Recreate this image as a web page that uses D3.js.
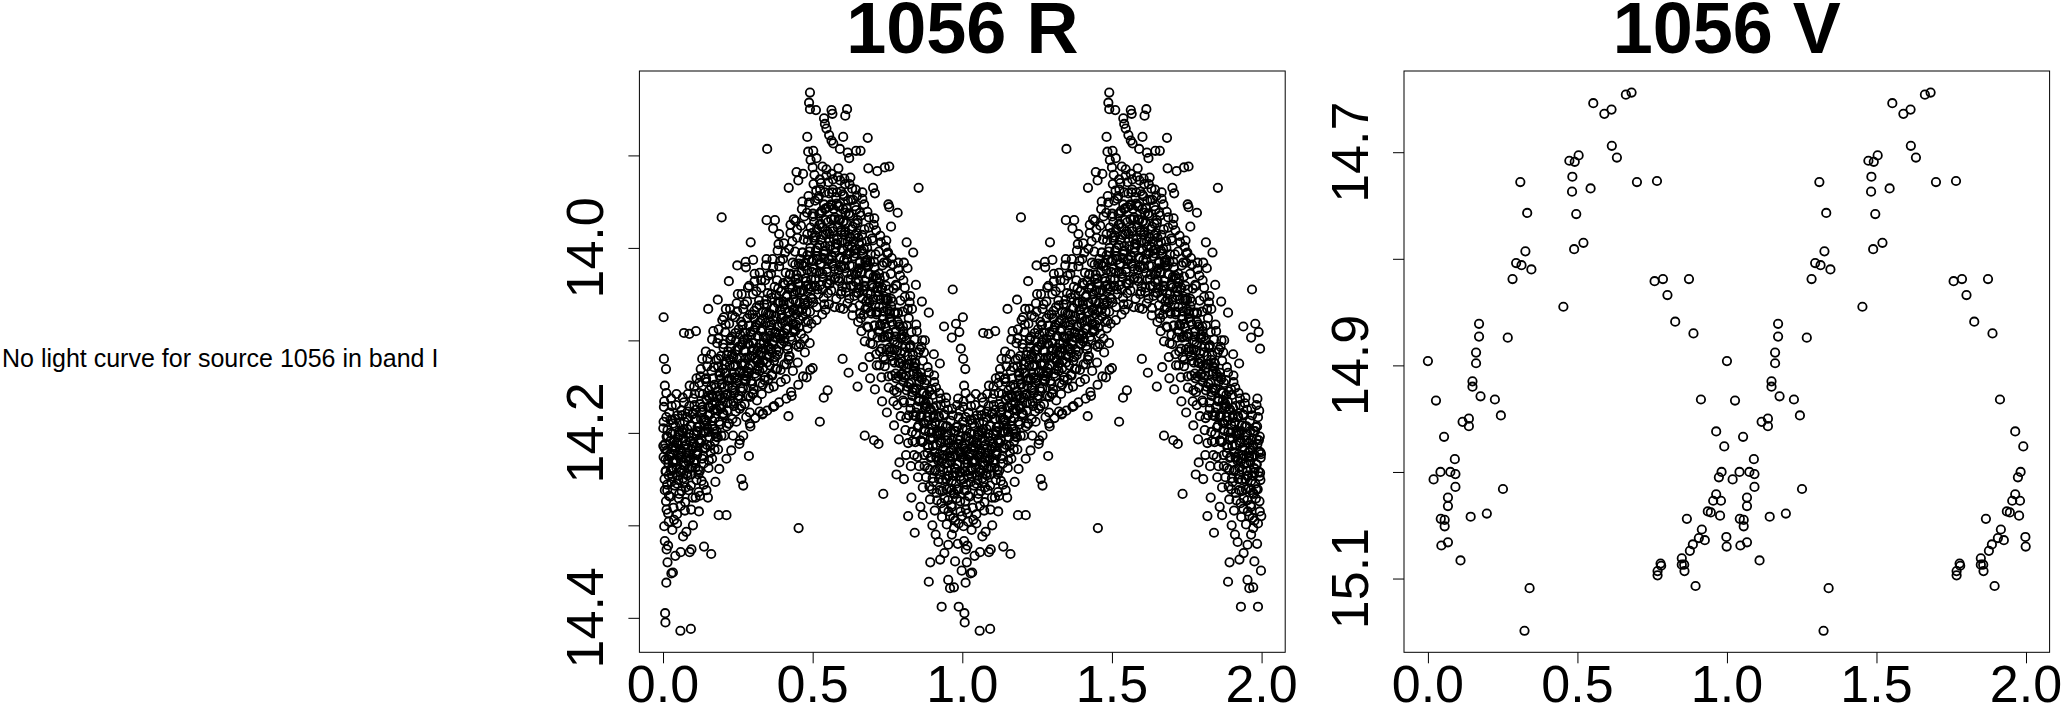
<!DOCTYPE html>
<html>
<head>
<meta charset="utf-8">
<script src="https://cdn.jsdelivr.net/npm/d3@7/dist/d3.min.js"></script>
<style>
  body { margin: 0; background: #fff; }
  svg { display: block; }
  text { font-family: "Liberation Sans", Arial, Helvetica, sans-serif; fill: #000; }
</style>
</head>
<body>
<div class="start"></div>
<script>
// phase-folded light curve of source 1056, one cycle (phase 0-1), each shown twice
// R band: main band of the curve
var rBand = [
[.004,14.166],[.011,14.183],[.001,14.195],[.016,14.204],[.007,14.212],[.013,14.219],[.002,14.226],[.018,14.233],[.009,14.241],[.005,14.250],[.014,14.262],[.010,14.274],[.017,14.287],
[.027,14.163],[.021,14.178],[.034,14.190],[.025,14.200],[.038,14.209],[.030,14.216],[.023,14.223],[.036,14.230],[.029,14.238],[.032,14.247],[.039,14.257],[.024,14.269],[.035,14.281],
[.043,14.170],[.049,14.181],[.041,14.193],[.055,14.202],[.046,14.210],[.058,14.218],[.052,14.224],[.044,14.231],[.057,14.239],[.050,14.246],[.047,14.255],[.054,14.266],[.059,14.279],
[.066,14.162],[.061,14.176],[.072,14.188],[.064,14.198],[.069,14.206],[.077,14.213],[.063,14.220],[.075,14.227],[.068,14.235],[.079,14.244],[.071,14.253],[.062,14.263],[.074,14.275],
[.083,14.158],[.088,14.171],[.081,14.183],[.094,14.193],[.086,14.201],[.091,14.209],[.097,14.215],[.084,14.222],[.090,14.229],[.096,14.237],[.082,14.246],[.093,14.257],[.099,14.270],
[.104,14.150],[.101,14.163],[.110,14.175],[.107,14.185],[.115,14.194],[.103,14.201],[.118,14.208],[.109,14.215],[.113,14.222],[.106,14.230],[.117,14.240],[.112,14.251],[.119,14.264],
[.126,14.131],[.121,14.146],[.133,14.158],[.124,14.169],[.129,14.178],[.137,14.186],[.122,14.193],[.135,14.200],[.128,14.208],[.139,14.217],[.131,14.228],[.123,14.241],[.136,14.256],
[.143,14.112],[.148,14.128],[.141,14.142],[.154,14.154],[.146,14.164],[.152,14.172],[.157,14.180],[.144,14.188],[.150,14.196],[.156,14.205],[.142,14.216],[.153,14.230],[.159,14.221],
[.164,14.099],[.161,14.115],[.170,14.129],[.167,14.141],[.175,14.151],[.163,14.159],[.178,14.167],[.169,14.175],[.173,14.184],[.166,14.193],[.177,14.204],[.172,14.218],[.179,14.198],
[.186,14.088],[.181,14.103],[.193,14.117],[.184,14.128],[.189,14.138],[.197,14.147],[.182,14.155],[.195,14.163],[.188,14.171],[.199,14.180],[.191,14.191],[.183,14.205],[.196,14.171],
[.203,14.075],[.208,14.091],[.201,14.104],[.214,14.116],[.206,14.126],[.211,14.135],[.217,14.143],[.204,14.151],[.210,14.159],[.216,14.168],[.202,14.179],[.213,14.193],[.219,14.190],
[.224,14.066],[.221,14.082],[.230,14.096],[.227,14.108],[.235,14.118],[.223,14.127],[.238,14.135],[.229,14.143],[.233,14.151],[.226,14.160],[.237,14.171],[.232,14.185],[.239,14.157],
[.246,14.060],[.241,14.075],[.253,14.088],[.244,14.100],[.249,14.110],[.257,14.119],[.242,14.127],[.255,14.135],[.248,14.143],[.259,14.152],[.251,14.163],[.243,14.177],[.256,14.174],
[.263,14.050],[.268,14.066],[.261,14.080],[.274,14.092],[.266,14.102],[.271,14.111],[.277,14.119],[.264,14.127],[.270,14.135],[.276,14.144],[.262,14.155],[.273,14.169],[.279,14.139],
[.284,14.043],[.281,14.058],[.290,14.072],[.287,14.084],[.295,14.094],[.283,14.103],[.298,14.111],[.289,14.119],[.293,14.127],[.286,14.136],[.297,14.147],[.292,14.161],[.299,14.158],
[.306,14.036],[.301,14.050],[.313,14.064],[.304,14.076],[.309,14.086],[.317,14.095],[.302,14.103],[.315,14.111],[.308,14.119],[.319,14.128],[.311,14.139],[.303,14.153],[.316,14.121],
[.323,14.027],[.328,14.043],[.321,14.057],[.334,14.069],[.326,14.079],[.331,14.088],[.337,14.096],[.324,14.104],[.330,14.113],[.336,14.122],[.322,14.133],[.333,14.148],[.339,14.143],
[.344,14.019],[.341,14.035],[.350,14.049],[.347,14.061],[.355,14.072],[.343,14.081],[.358,14.089],[.349,14.098],[.353,14.107],[.346,14.116],[.357,14.127],[.352,14.142],[.359,14.109],
[.366,14.012],[.361,14.028],[.373,14.042],[.364,14.054],[.369,14.065],[.377,14.074],[.362,14.083],[.375,14.092],[.368,14.101],[.379,14.110],[.371,14.122],[.363,14.137],[.376,14.131],
[.383,14.003],[.388,14.020],[.381,14.035],[.394,14.047],[.386,14.058],[.391,14.067],[.397,14.076],[.384,14.085],[.390,14.094],[.396,14.104],[.382,14.116],[.393,14.132],[.399,14.094],
[.404,13.995],[.401,14.012],[.410,14.027],[.407,14.040],[.415,14.051],[.403,14.061],[.418,14.070],[.409,14.079],[.413,14.088],[.406,14.098],[.417,14.110],[.412,14.126],[.419,14.121],
[.426,13.984],[.421,14.001],[.433,14.016],[.424,14.029],[.429,14.040],[.437,14.050],[.422,14.059],[.435,14.068],[.428,14.078],[.439,14.088],[.431,14.100],[.423,14.117],[.436,14.083],
[.443,13.971],[.448,13.989],[.441,14.004],[.454,14.017],[.446,14.029],[.451,14.039],[.457,14.048],[.444,14.058],[.450,14.067],[.456,14.078],[.442,14.090],[.453,14.107],[.459,14.104],
[.464,13.958],[.461,13.976],[.470,13.991],[.467,14.005],[.475,14.016],[.463,14.026],[.478,14.036],[.469,14.046],[.473,14.056],[.466,14.067],[.477,14.080],[.472,14.098],[.479,14.069],
[.486,13.944],[.481,13.962],[.493,13.978],[.484,13.992],[.489,14.004],[.497,14.014],[.482,14.024],[.495,14.034],[.488,14.044],[.499,14.055],[.491,14.069],[.483,14.087],[.496,14.082],
[.503,13.931],[.508,13.949],[.501,13.966],[.514,13.980],[.506,13.992],[.511,14.003],[.517,14.013],[.504,14.023],[.510,14.034],[.516,14.045],[.502,14.059],[.513,14.078],[.519,14.050],
[.524,13.926],[.521,13.944],[.530,13.960],[.527,13.974],[.535,13.986],[.523,13.997],[.538,14.007],[.529,14.017],[.533,14.028],[.526,14.040],[.537,14.054],[.532,14.072],[.539,14.061],
[.546,13.922],[.541,13.940],[.553,13.956],[.544,13.970],[.549,13.982],[.557,13.993],[.542,14.003],[.555,14.013],[.548,14.023],[.559,14.035],[.551,14.049],[.543,14.067],[.556,14.039],
[.563,13.920],[.568,13.937],[.561,13.953],[.574,13.967],[.566,13.979],[.571,13.990],[.577,14.000],[.564,14.010],[.570,14.020],[.576,14.032],[.562,14.046],[.573,14.064],[.579,14.055],
[.584,13.923],[.581,13.940],[.590,13.955],[.587,13.969],[.595,13.981],[.583,13.991],[.598,14.001],[.589,14.011],[.593,14.021],[.586,14.033],[.597,14.047],[.592,14.065],[.599,14.042],
[.606,13.925],[.601,13.942],[.613,13.957],[.604,13.971],[.609,13.983],[.617,13.993],[.602,14.003],[.615,14.012],[.608,14.022],[.619,14.034],[.611,14.048],[.603,14.066],[.616,14.060],
[.623,13.931],[.628,13.948],[.621,13.963],[.634,13.977],[.626,13.989],[.631,13.999],[.637,14.009],[.624,14.019],[.630,14.029],[.636,14.041],[.622,14.055],[.633,14.073],[.639,14.052],
[.644,13.937],[.641,13.955],[.650,13.970],[.647,13.984],[.655,13.996],[.643,14.006],[.658,14.016],[.649,14.026],[.653,14.036],[.646,14.048],[.657,14.062],[.652,14.080],[.659,14.071],
[.666,13.947],[.661,13.965],[.673,13.980],[.664,13.994],[.669,14.006],[.677,14.016],[.662,14.026],[.675,14.036],[.668,14.046],[.679,14.058],[.671,14.072],[.663,14.090],[.676,14.066],
[.683,13.961],[.688,13.978],[.681,13.993],[.694,14.007],[.686,14.019],[.691,14.029],[.697,14.039],[.684,14.049],[.690,14.059],[.696,14.071],[.682,14.085],[.693,14.103],[.699,14.094],
[.704,13.975],[.701,13.992],[.710,14.007],[.707,14.021],[.715,14.033],[.703,14.043],[.718,14.052],[.709,14.062],[.713,14.072],[.706,14.084],[.717,14.097],[.712,14.115],[.719,14.090],
[.726,13.987],[.721,14.004],[.733,14.019],[.724,14.033],[.729,14.045],[.737,14.055],[.722,14.064],[.735,14.074],[.728,14.084],[.739,14.096],[.731,14.109],[.723,14.127],[.736,14.118],
[.743,13.999],[.748,14.016],[.741,14.031],[.754,14.045],[.746,14.057],[.751,14.067],[.757,14.076],[.744,14.086],[.750,14.096],[.756,14.108],[.742,14.121],[.753,14.139],[.759,14.112],
[.764,14.011],[.761,14.028],[.770,14.044],[.767,14.058],[.775,14.070],[.763,14.080],[.778,14.090],[.769,14.100],[.773,14.110],[.766,14.122],[.777,14.136],[.772,14.154],[.779,14.141],
[.786,14.023],[.781,14.041],[.793,14.057],[.784,14.071],[.789,14.083],[.797,14.094],[.782,14.104],[.795,14.114],[.788,14.124],[.799,14.136],[.791,14.151],[.783,14.170],[.796,14.137],
[.803,14.035],[.808,14.053],[.801,14.069],[.814,14.084],[.806,14.096],[.811,14.107],[.817,14.117],[.804,14.127],[.810,14.138],[.816,14.150],[.802,14.165],[.813,14.184],[.819,14.211],
[.824,14.059],[.821,14.076],[.830,14.091],[.827,14.105],[.835,14.116],[.823,14.126],[.838,14.136],[.829,14.146],[.833,14.156],[.826,14.167],[.837,14.181],[.832,14.199],[.839,14.224],
[.846,14.083],[.841,14.099],[.853,14.113],[.844,14.125],[.849,14.136],[.857,14.145],[.842,14.154],[.855,14.163],[.848,14.172],[.859,14.182],[.851,14.194],[.843,14.210],[.856,14.236],
[.863,14.107],[.868,14.122],[.861,14.135],[.874,14.146],[.866,14.156],[.871,14.165],[.877,14.173],[.864,14.181],[.870,14.189],[.876,14.198],[.862,14.209],[.873,14.224],[.879,14.248],
[.884,14.129],[.881,14.143],[.890,14.155],[.887,14.166],[.895,14.175],[.883,14.183],[.898,14.191],[.889,14.199],[.893,14.207],[.886,14.216],[.897,14.226],[.892,14.240],[.899,14.261],
[.906,14.145],[.901,14.159],[.913,14.171],[.904,14.181],[.909,14.190],[.917,14.198],[.902,14.206],[.915,14.213],[.908,14.221],[.919,14.230],[.911,14.240],[.903,14.253],[.916,14.273],
[.923,14.157],[.928,14.170],[.921,14.182],[.934,14.192],[.926,14.201],[.931,14.209],[.937,14.216],[.924,14.223],[.930,14.231],[.936,14.240],[.922,14.250],[.933,14.263],[.939,14.282],
[.944,14.168],[.941,14.181],[.950,14.193],[.947,14.203],[.955,14.211],[.943,14.219],[.958,14.226],[.949,14.233],[.953,14.241],[.946,14.250],[.957,14.260],[.952,14.273],[.959,14.290],
[.966,14.174],[.961,14.187],[.973,14.198],[.964,14.208],[.969,14.216],[.977,14.224],[.962,14.231],[.975,14.238],[.968,14.246],[.979,14.255],[.971,14.265],[.963,14.278],[.976,14.295],
[.983,14.170],[.988,14.183],[.981,14.194],[.994,14.204],[.986,14.212],[.991,14.220],[.997,14.227],[.984,14.234],[.990,14.242],[.996,14.251],[.982,14.261],[.993,14.274],[.999,14.290]
];
// R band: the darkest middle of the band
var rCore = [
[.002,14.188],[.012,14.204],[.006,14.217],[.017,14.229],[.009,14.242],[.014,14.256],
[.025,14.186],[.031,14.201],[.036,14.214],[.022,14.226],[.033,14.240],[.028,14.253],
[.042,14.185],[.053,14.199],[.048,14.212],[.057,14.225],[.045,14.238],[.051,14.251],
[.065,14.181],[.070,14.196],[.076,14.209],[.062,14.222],[.073,14.236],[.067,14.249],
[.082,14.177],[.092,14.192],[.087,14.205],[.097,14.218],[.085,14.231],[.095,14.245],
[.105,14.170],[.111,14.185],[.116,14.198],[.102,14.211],[.114,14.224],[.108,14.238],
[.122,14.157],[.132,14.172],[.127,14.185],[.137,14.198],[.125,14.211],[.134,14.225],
[.145,14.145],[.151,14.160],[.156,14.173],[.142,14.186],[.153,14.199],[.147,14.213],
[.162,14.133],[.172,14.148],[.167,14.161],[.177,14.174],[.165,14.187],[.174,14.201],
[.185,14.120],[.191,14.135],[.196,14.148],[.182,14.161],[.193,14.174],[.187,14.188],
[.202,14.108],[.212,14.123],[.207,14.136],[.217,14.149],[.205,14.162],[.214,14.176],
[.225,14.100],[.231,14.115],[.236,14.128],[.222,14.141],[.233,14.154],[.227,14.168],
[.242,14.092],[.252,14.107],[.247,14.120],[.257,14.133],[.245,14.146],[.254,14.160],
[.265,14.084],[.271,14.099],[.276,14.112],[.262,14.125],[.273,14.138],[.267,14.152],
[.282,14.076],[.292,14.091],[.287,14.104],[.297,14.117],[.285,14.130],[.294,14.144],
[.305,14.068],[.311,14.083],[.316,14.096],[.302,14.109],[.313,14.122],[.307,14.136],
[.322,14.062],[.332,14.077],[.327,14.090],[.337,14.103],[.325,14.116],[.334,14.130],
[.345,14.056],[.351,14.071],[.356,14.084],[.342,14.097],[.353,14.110],[.347,14.124],
[.362,14.050],[.372,14.065],[.367,14.078],[.377,14.091],[.365,14.104],[.374,14.118],
[.385,14.044],[.391,14.059],[.396,14.072],[.382,14.085],[.393,14.098],[.387,14.112],
[.402,14.038],[.412,14.053],[.407,14.066],[.417,14.079],[.405,14.092],[.414,14.106],
[.425,14.028],[.431,14.043],[.436,14.056],[.422,14.069],[.433,14.082],[.427,14.096],
[.442,14.018],[.452,14.033],[.447,14.046],[.457,14.059],[.445,14.072],[.454,14.086],
[.465,14.005],[.471,14.020],[.476,14.033],[.462,14.046],[.473,14.060],[.467,14.074],
[.482,13.985],[.492,14.000],[.487,14.013],[.497,14.026],[.485,14.040],[.494,14.054],
[.505,13.972],[.511,13.987],[.516,14.000],[.502,14.013],[.513,14.027],[.507,14.041],
[.522,13.963],[.532,13.978],[.527,13.991],[.537,14.004],[.525,14.018],[.534,14.032],
[.545,13.957],[.551,13.972],[.556,13.985],[.542,13.998],[.553,14.012],[.547,14.026],
[.562,13.954],[.572,13.969],[.567,13.982],[.577,13.995],[.565,14.009],[.574,14.023],
[.585,13.955],[.591,13.970],[.596,13.983],[.582,13.996],[.593,14.010],[.587,14.024],
[.602,13.958],[.612,13.973],[.607,13.986],[.617,13.999],[.605,14.013],[.614,14.027],
[.625,13.965],[.631,13.980],[.636,13.993],[.622,14.006],[.633,14.020],[.627,14.034],
[.642,13.974],[.652,13.989],[.647,14.002],[.657,14.015],[.645,14.029],[.654,14.043],
[.665,13.986],[.671,14.001],[.676,14.014],[.662,14.027],[.673,14.041],[.667,14.055],
[.682,14.000],[.692,14.015],[.687,14.028],[.697,14.041],[.685,14.055],[.694,14.069],
[.705,14.015],[.711,14.030],[.716,14.043],[.702,14.056],[.713,14.070],[.707,14.084],
[.722,14.028],[.732,14.043],[.727,14.056],[.737,14.069],[.725,14.083],[.734,14.097],
[.745,14.041],[.751,14.056],[.756,14.069],[.742,14.082],[.753,14.096],[.747,14.110],
[.762,14.055],[.772,14.070],[.767,14.083],[.777,14.096],[.765,14.110],[.774,14.124],
[.785,14.070],[.791,14.085],[.796,14.098],[.782,14.111],[.793,14.125],[.787,14.139],
[.802,14.085],[.812,14.100],[.807,14.113],[.817,14.126],[.805,14.140],[.814,14.154],
[.825,14.106],[.831,14.121],[.836,14.134],[.822,14.147],[.833,14.160],[.827,14.174],
[.842,14.124],[.852,14.139],[.847,14.152],[.857,14.165],[.845,14.178],[.854,14.192],
[.865,14.142],[.871,14.157],[.876,14.170],[.862,14.183],[.873,14.196],[.867,14.210],
[.882,14.159],[.892,14.174],[.887,14.187],[.897,14.200],[.885,14.213],[.894,14.227],
[.905,14.173],[.911,14.188],[.916,14.201],[.902,14.214],[.913,14.227],[.907,14.241],
[.922,14.183],[.932,14.198],[.927,14.211],[.937,14.224],[.925,14.237],[.934,14.251],
[.945,14.193],[.951,14.208],[.956,14.221],[.942,14.234],[.953,14.247],[.947,14.261],
[.962,14.198],[.972,14.213],[.967,14.226],[.977,14.239],[.965,14.252],[.974,14.266],
[.985,14.193],[.991,14.208],[.996,14.221],[.982,14.234],[.993,14.247],[.987,14.261]
];
// R band: further points filling the band, read less regularly
var rFill = [
[.003,14.172],[.008,14.229],[.012,14.283],[.015,14.197],[.019,14.246],[.006,14.262],[.001,14.214],[.011,14.157],
[.024,14.209],[.020,14.268],[.029,14.171],[.033,14.232],[.037,14.294],[.026,14.241],[.031,14.186],[.039,14.219],
[.041,14.229],[.045,14.158],[.050,14.205],[.053,14.271],[.056,14.189],[.047,14.288],[.059,14.243],[.043,14.216],
[.062,14.241],[.066,14.200],[.070,14.167],[.073,14.284],[.078,14.221],[.064,14.181],[.076,14.259],[.069,14.232],
[.081,14.196],[.085,14.262],[.089,14.149],[.092,14.227],[.098,14.180],[.087,14.239],[.094,14.283],[.083,14.216],
[.103,14.232],[.106,14.158],[.109,14.270],[.114,14.199],[.118,14.245],[.101,14.179],[.112,14.141],[.116,14.220],
[.121,14.210],[.125,14.139],[.129,14.252],[.133,14.175],[.136,14.233],[.123,14.268],[.138,14.192],[.131,14.120],
[.142,14.199],[.145,14.262],[.148,14.120],[.152,14.238],[.155,14.162],[.158,14.214],[.144,14.141],[.150,14.181],
[.161,14.150],[.164,14.228],[.168,14.090],[.171,14.196],[.175,14.253],[.178,14.121],[.166,14.170],[.173,14.209],
[.182,14.176],[.185,14.098],[.188,14.239],[.192,14.142],[.195,14.203],[.198,14.078],[.184,14.218],[.190,14.160],
[.201,14.131],[.205,14.203],[.209,14.083],[.212,14.228],[.215,14.158],[.218,14.112],[.203,14.181],[.210,14.066],
[.221,14.190],[.224,14.121],[.228,14.219],[.232,14.073],[.235,14.166],[.238,14.140],[.226,14.098],[.234,14.203],
[.242,14.111],[.245,14.188],[.248,14.069],[.252,14.160],[.255,14.212],[.258,14.094],[.244,14.141],[.250,14.050],
[.261,14.171],[.264,14.105],[.268,14.203],[.272,14.061],[.275,14.142],[.278,14.183],[.266,14.083],[.274,14.125],
[.282,14.098],[.285,14.160],[.288,14.041],[.292,14.193],[.295,14.117],[.298,14.072],[.284,14.134],[.290,14.178],
[.301,14.157],[.304,14.089],[.308,14.184],[.312,14.047],[.315,14.132],[.318,14.108],[.306,14.028],[.314,14.165],
[.322,14.081],[.325,14.146],[.328,14.035],[.332,14.180],[.335,14.109],[.338,14.061],[.324,14.125],[.330,14.158],
[.341,14.140],[.344,14.070],[.348,14.176],[.352,14.030],[.355,14.118],[.358,14.095],[.346,14.012],[.354,14.152],
[.362,14.072],[.365,14.138],[.368,14.021],[.372,14.171],[.375,14.097],[.378,14.051],[.364,14.113],[.370,14.150],
[.381,14.131],[.384,14.060],[.388,14.167],[.392,14.014],[.395,14.104],[.398,14.082],[.386,13.996],[.394,14.145],
[.402,14.058],[.405,14.126],[.408,14.005],[.412,14.163],[.415,14.087],[.418,14.036],[.404,14.101],[.410,14.142],
[.421,14.117],[.424,14.044],[.428,14.156],[.432,13.993],[.435,14.090],[.438,14.066],[.426,13.975],[.434,14.133],
[.442,14.034],[.445,14.105],[.448,13.980],[.452,14.148],[.455,14.069],[.458,14.012],[.444,14.083],[.450,14.124],
[.461,14.093],[.464,14.018],[.468,14.139],[.472,13.966],[.475,14.062],[.478,14.041],[.466,13.950],[.474,14.113],
[.482,14.008],[.485,14.079],[.488,13.951],[.492,14.132],[.495,14.042],[.498,13.984],[.484,14.058],[.490,14.103],
[.501,13.963],[.504,13.989],[.508,14.041],[.512,13.938],[.515,14.009],[.518,13.947],[.506,13.921],[.514,14.064],
[.522,13.975],[.525,13.937],[.528,13.930],[.532,14.045],[.535,14.011],[.538,13.953],[.524,14.026],[.530,13.962],
[.541,13.958],[.544,13.985],[.548,14.038],[.552,13.929],[.555,13.941],[.558,13.998],[.546,13.915],[.554,14.061],
[.562,13.969],[.565,13.940],[.568,13.926],[.572,14.034],[.575,14.005],[.578,13.945],[.564,14.017],[.570,13.958],
[.581,13.952],[.584,13.978],[.588,14.036],[.592,13.927],[.595,13.939],[.598,13.994],[.586,13.914],[.594,14.050],
[.602,13.972],[.605,13.944],[.608,13.931],[.612,14.043],[.615,14.007],[.618,13.949],[.604,14.020],[.610,13.962],
[.621,13.963],[.624,13.988],[.628,14.041],[.632,13.936],[.635,13.948],[.638,14.003],[.626,13.924],[.634,14.065],
[.642,13.986],[.645,13.959],[.648,13.944],[.652,14.049],[.655,14.022],[.658,13.962],[.644,14.037],[.650,13.973],
[.661,14.076],[.664,14.003],[.668,14.129],[.672,13.953],[.675,14.042],[.678,14.019],[.666,13.940],[.674,14.101],
[.682,14.013],[.685,14.086],[.688,13.967],[.692,14.141],[.695,14.050],[.698,13.990],[.684,14.065],[.690,14.118],
[.701,14.104],[.704,14.031],[.708,14.153],[.712,13.981],[.715,14.069],[.718,14.047],[.706,13.968],[.714,14.127],
[.722,14.038],[.725,14.112],[.728,13.994],[.732,14.166],[.735,14.077],[.738,14.016],[.724,14.091],[.730,14.140],
[.741,14.128],[.744,14.055],[.748,14.178],[.752,14.005],[.755,14.093],[.758,14.071],[.746,13.992],[.754,14.151],
[.762,14.063],[.765,14.138],[.768,14.018],[.772,14.192],[.775,14.102],[.778,14.040],[.764,14.117],[.770,14.166],
[.781,14.156],[.784,14.080],[.788,14.207],[.792,14.030],[.795,14.120],[.798,14.097],[.786,14.016],[.794,14.182],
[.802,14.090],[.805,14.167],[.808,14.043],[.812,14.224],[.815,14.130],[.818,14.066],[.804,14.145],[.810,14.197],
[.821,14.181],[.824,14.108],[.828,14.236],[.832,14.066],[.835,14.152],[.838,14.128],[.826,14.052],[.834,14.209],
[.842,14.130],[.845,14.201],[.848,14.090],[.852,14.248],[.855,14.166],[.858,14.110],[.844,14.182],[.850,14.226],
[.861,14.208],[.864,14.140],[.868,14.259],[.872,14.113],[.875,14.190],[.878,14.168],[.866,14.100],[.874,14.236],
[.882,14.172],[.885,14.238],[.888,14.135],[.892,14.272],[.895,14.205],[.898,14.153],[.884,14.222],[.890,14.258],
[.901,14.249],[.904,14.184],[.908,14.284],[.912,14.151],[.915,14.226],[.918,14.203],[.906,14.138],[.914,14.265],
[.922,14.199],[.925,14.262],[.928,14.163],[.932,14.291],[.935,14.228],[.938,14.180],[.924,14.245],[.930,14.276],
[.941,14.271],[.944,14.208],[.948,14.299],[.952,14.175],[.955,14.246],[.958,14.225],[.946,14.162],[.954,14.285],
[.962,14.219],[.965,14.280],[.968,14.181],[.972,14.303],[.975,14.243],[.978,14.198],[.964,14.262],[.970,14.292],
[.981,14.271],[.984,14.207],[.988,14.298],[.992,14.176],[.995,14.243],[.998,14.223],[.986,14.163],[.994,14.285]
];
// R band: scattered points above and below the band
var rScatter = [
[.002,14.075],[.003,14.120],[.010,14.131],[.006,14.149],[.088,14.093],[.070,14.092],[.110,14.090],[.151,14.066],[.183,14.056],
[.196,13.967],[.220,14.036],[.248,14.019],[.276,14.015],[.277,14.021],[.301,14.013],[.293,13.994],[.346,13.970],[.374,13.970],
[.368,13.979],[.388,13.985],[.437,13.969],[.348,13.893],[.420,13.935],[.446,13.918],[.468,13.920],[.452,13.927],[.482,13.880],
[.485,13.896],[.502,13.895],[.493,13.905],[.513,13.903],[.533,13.912],[.500,13.913],[.491,13.832],[.488,13.843],[.491,13.850],
[.511,13.851],[.563,13.851],[.566,13.855],[.615,13.850],[.609,13.857],[.538,13.860],[.541,13.866],[.546,13.871],[.555,13.878],
[.563,13.884],[.569,13.887],[.591,13.893],[.617,13.897],[.622,13.903],[.645,13.895],[.660,13.895],[.602,13.880],[.684,13.881],
[.686,13.914],[.716,13.917],[.741,13.913],[.756,13.912],[.702,13.935],[.708,13.941],[.753,13.953],[.756,13.956],[.784,13.962],
[.762,13.977],[.814,13.994],[.836,14.005],[.805,14.016],[.749,14.006],[.817,14.022],[.845,14.040],[.865,14.058],[.854,13.935],
[.888,14.070],[.875,14.100],[.905,14.115],[.925,14.125],[.939,14.085],[.979,14.082],[.965,14.097],[.990,14.091],[.995,14.109],[.968,14.045],
[.007,14.395],[.008,14.405],[.058,14.414],[.093,14.412],[.011,14.362],[.028,14.352],[.033,14.351],[.015,14.340],[.006,14.317],
[.012,14.326],[.017,14.322],[.041,14.333],[.059,14.329],[.089,14.329],[.095,14.326],[.137,14.323],[.161,14.331],[.078,14.307],
[.067,14.312],[.186,14.289],[.212,14.289],[.262,14.250],[.268,14.257],[.287,14.225],[.453,14.303],[.524,14.188],[.537,14.162],
[.550,14.154],[.674,14.203],[.736,14.266],[.819,14.290],[.868,14.289],[.841,14.308],[.893,14.340],[.926,14.337],[.888,14.361],
[.931,14.388],[.953,14.359],[.959,14.368],[.972,14.367],[.976,14.339],[.988,14.388],[.911,14.310],[.953,14.321],[.998,14.349],
[.323,14.177],[.419,14.182],[.257,14.208],[.290,14.190],[.334,14.179],[.368,14.172],[.004,14.301],[.019,14.296],[.031,14.305],
[.047,14.298],[.790,14.232],[.805,14.250],[.830,14.270],[.860,14.280],[.900,14.300],[.920,14.318],[.940,14.330],[.965,14.310],
[.985,14.320],[.120,14.285],[.150,14.270],[.100,14.300],[.720,14.212],[.705,14.208],[.780,14.245],[.600,14.120],[.620,14.135],
[.650,14.150],[.480,14.140],[.430,14.160],[.500,14.130]
];
// V band
var vObs = [
[.553,14.654],[.590,14.664],[.614,14.660],[.662,14.646],[.681,14.644],[.615,14.694],[.632,14.705],[.473,14.708],[.491,14.709],
[.504,14.703],[.483,14.723],[.482,14.737],[.544,14.734],[.309,14.728],[.699,14.728],[.766,14.727],[.332,14.757],[.496,14.758],
[.489,14.791],[.520,14.785],[.326,14.793],[.295,14.804],[.313,14.806],[.346,14.810],[.283,14.819],[.758,14.821],[.786,14.819],
[.873,14.819],[.801,14.834],[.453,14.845],[.827,14.859],[.888,14.870],[.171,14.861],[.171,14.873],[.267,14.874],[.161,14.888],
[.000,14.896],[.161,14.898],[.149,14.915],[.149,14.920],[.176,14.929],[.224,14.932],[.027,14.933],[.244,14.947],[.137,14.950],
[.116,14.953],[.137,14.957],[.054,14.967],[.090,14.988],[.042,15.000],[.075,15.000],[.092,15.002],[.019,15.007],[.092,15.014],
[.251,15.016],[.067,15.024],[.067,15.032],[.197,15.039],[.143,15.042],[.043,15.044],[.056,15.045],[.056,15.051],[.045,15.069],
[.067,15.066],[.109,15.083],[.340,15.109],[.323,15.149],[.913,14.932],[.964,14.962],[.991,14.976],[.982,15.000],[.973,15.005],
[.964,15.021],[.954,15.027],[.980,15.027],[.936,15.037],[.946,15.038],[.977,15.041],[.866,15.044],[.916,15.054],[.906,15.062],
[.926,15.064],[.998,15.061],[.999,15.070],[.886,15.068],[.876,15.074],[.849,15.081],[.849,15.087],[.857,15.087],[.858,15.093],
[.778,15.086],[.780,15.088],[.768,15.093],[.768,15.097],[.895,15.107]
];

var phaseTicks = [0, 0.5, 1, 1.5, 2];
var rMagTicks = [13.9, 14.0, 14.1, 14.2, 14.3, 14.4];
var rMagLabels = [14.0, 14.2, 14.4];
var vMagTicks = [14.7, 14.8, 14.9, 15.0, 15.1];
var vMagLabels = [14.7, 14.9, 15.1];

var svg = d3.select('.start')
  .append('svg')
  .attr('width', 2064)
  .attr('height', 706);

svg.append('rect').attr('width', 2064).attr('height', 706).attr('fill', '#fff');

svg.append('text')
  .attr('x', 2)
  .attr('y', 367)
  .attr('font-size', 25)
  .text('No light curve for source 1056 in band I');

function panel(title, obs, magTicks, magLabels, left, right) {
  var top = 71, bottom = 652.3;

  // two cycles of phase
  var pts = [];
  obs.forEach(function(d) { pts.push([d[0], d[1]]); pts.push([d[0] + 1, d[1]]); });

  var xr = d3.extent(pts, function(d) { return d[0]; });
  var yr = d3.extent(pts, function(d) { return d[1]; });
  var xp = (xr[1] - xr[0]) * 0.04, yp = (yr[1] - yr[0]) * 0.04;

  var x = d3.scaleLinear().domain([xr[0] - xp, xr[1] + xp]).range([left, right]);
  var y = d3.scaleLinear().domain([yr[0] - yp, yr[1] + yp]).range([top, bottom]);

  var g = svg.append('g');

  g.append('g')
    .attr('transform', 'translate(0,' + bottom + ')')
    .call(d3.axisBottom(x).tickValues(phaseTicks).tickSize(11).tickFormat(''))
    .call(function(a) { a.select('.domain').remove(); });

  g.append('g')
    .attr('transform', 'translate(' + left + ',0)')
    .call(d3.axisLeft(y).tickValues(magTicks).tickSize(11).tickFormat(''))
    .call(function(a) { a.select('.domain').remove(); });

  g.selectAll('.tick line').attr('stroke', '#000');

  g.selectAll('.xl')
    .data(phaseTicks)
    .enter().append('text')
    .attr('x', function(d) { return x(d); })
    .attr('y', 701.5)
    .attr('text-anchor', 'middle')
    .attr('font-size', 52)
    .text(function(d) { return d3.format('.1f')(d); });

  g.selectAll('.yl')
    .data(magLabels)
    .enter().append('text')
    .attr('transform', function(d) { return 'translate(' + (left - 36) + ',' + y(d) + ') rotate(-90)'; })
    .attr('text-anchor', 'middle')
    .attr('font-size', 52)
    .text(function(d) { return d3.format('.1f')(d); });

  g.append('rect')
    .attr('x', left)
    .attr('y', top)
    .attr('width', right - left)
    .attr('height', bottom - top)
    .attr('fill', 'none')
    .attr('stroke', '#000')
    .attr('stroke-width', 1);

  g.append('g')
    .selectAll('circle')
    .data(pts)
    .enter().append('circle')
    .attr('cx', function(d) { return x(d[0]); })
    .attr('cy', function(d) { return y(d[1]); })
    .attr('r', 4.2)
    .attr('fill', 'none')
    .attr('stroke', '#000')
    .attr('stroke-width', 1.8);

  g.append('text')
    .attr('x', (left + right) / 2)
    .attr('y', 53.3)
    .attr('text-anchor', 'middle')
    .attr('font-size', 72)
    .attr('font-weight', 'bold')
    .text(title);
}

panel('1056 R', rBand.concat(rCore, rFill, rScatter), rMagTicks, rMagLabels, 639.4, 1285.2);
panel('1056 V', vObs, vMagTicks, vMagLabels, 1404, 2049.6);
</script>
</body>
</html>
